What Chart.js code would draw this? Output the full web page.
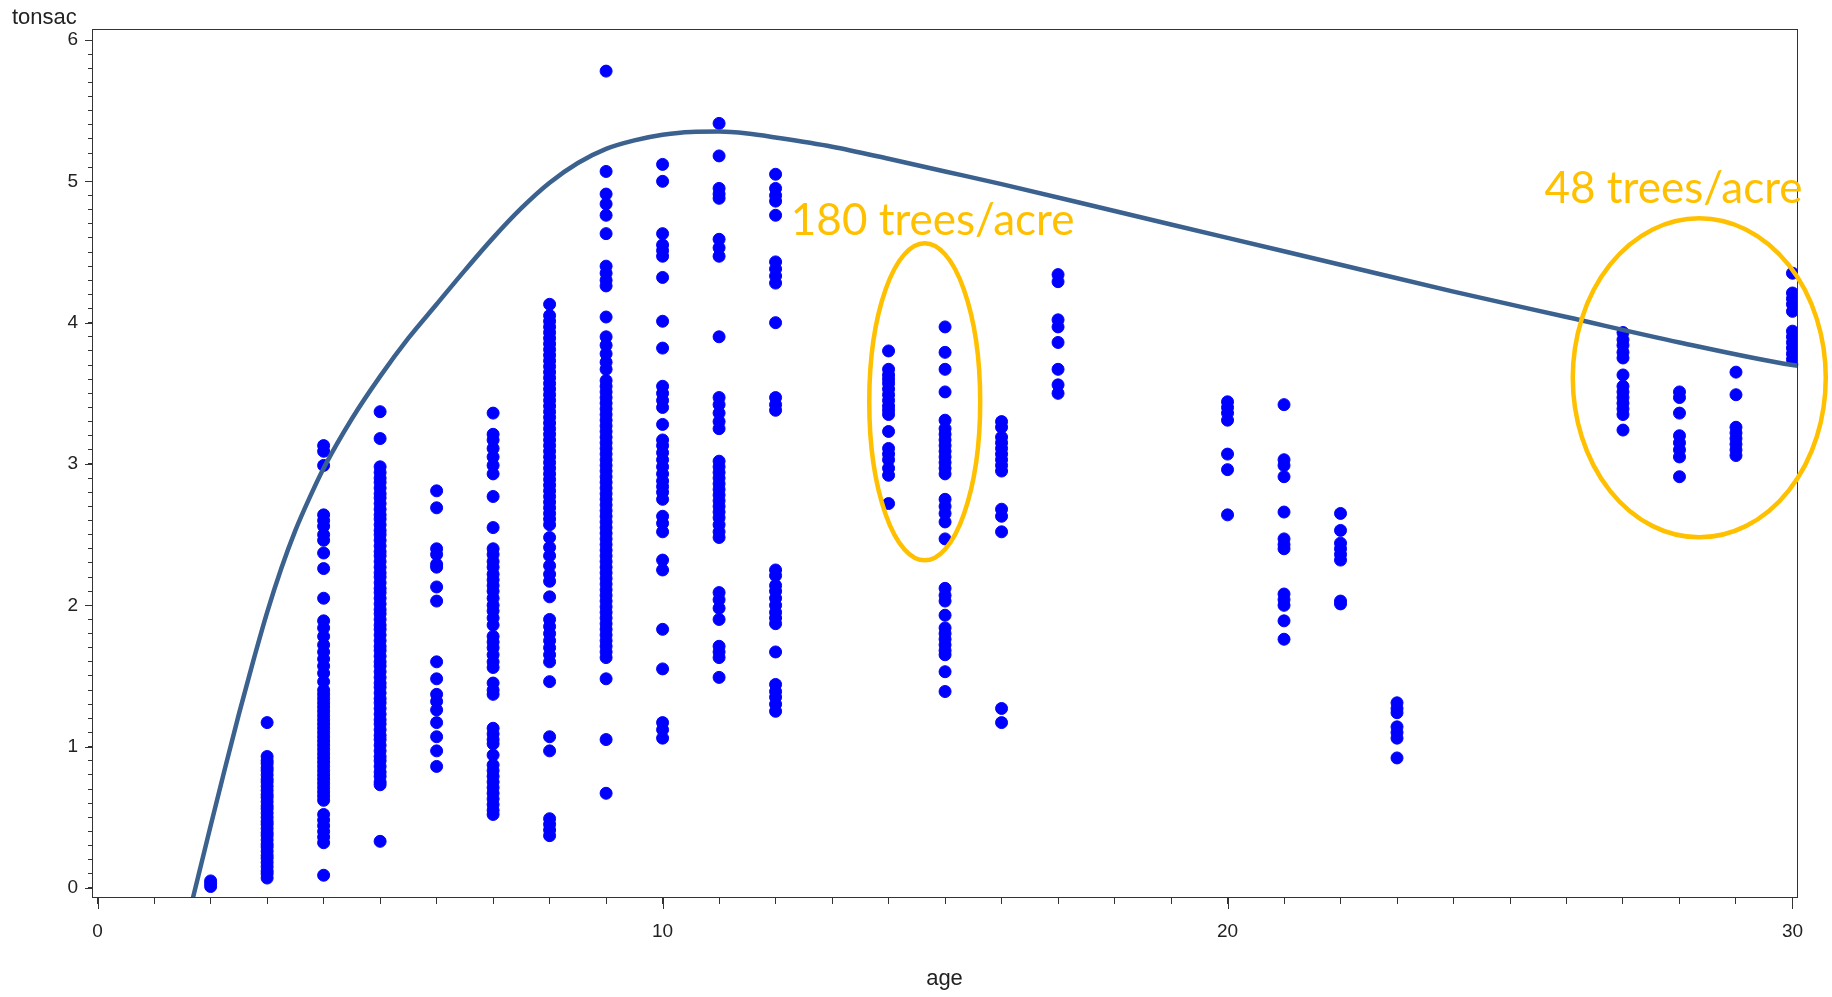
<!DOCTYPE html>
<html>
<head>
<meta charset="utf-8">
<script src="https://cdn.jsdelivr.net/npm/chart.js@4/dist/chart.umd.min.js"></script>
<style>
  html, body { margin: 0; padding: 0; background: #ffffff; }
  #wrap { width: 1832px; height: 997px; }
</style>
</head>
<body>
<div id="wrap"><canvas id="c" width="1832" height="997"></canvas></div>
<script>
// ---------------- data ----------------
const ages = [2, 3, 4, 5, 6, 7, 8, 9, 10, 11, 12, 14, 15, 16, 17, 20, 21, 22, 23, 27, 28, 29, 30];

const tonsacAge2 = [0.05, 0.03, 0.01];
const tonsacAge3 = [1.17, 0.93, 0.90, 0.88, 0.85, 0.83, 0.80, 0.77, 0.75, 0.72, 0.69, 0.66, 0.64, 0.61, 0.58, 0.56, 0.53, 0.50, 0.47, 0.45, 0.42, 0.39, 0.37, 0.34, 0.31, 0.29, 0.26, 0.23, 0.21, 0.18, 0.15, 0.12, 0.10, 0.07];
const tonsacAge4 = [3.13, 3.09, 2.99, 2.64, 2.60, 2.56, 2.50, 2.46, 2.37, 2.26, 2.05, 1.89, 1.84, 1.78, 1.72, 1.67, 1.62, 1.57, 1.52, 1.46, 1.40, 1.37, 1.34, 1.31, 1.28, 1.25, 1.22, 1.19, 1.16, 1.13, 1.10, 1.07, 1.04, 1.01, 0.98, 0.95, 0.92, 0.89, 0.86, 0.83, 0.80, 0.77, 0.74, 0.71, 0.68, 0.65, 0.62, 0.52, 0.48, 0.44, 0.40, 0.36, 0.32, 0.09];
const tonsacAge5 = [3.37, 3.18, 2.98, 2.94, 2.90, 2.87, 2.83, 2.79, 2.76, 2.72, 2.68, 2.64, 2.61, 2.57, 2.53, 2.50, 2.46, 2.42, 2.38, 2.35, 2.31, 2.27, 2.23, 2.20, 2.16, 2.12, 2.09, 2.05, 2.01, 1.97, 1.94, 1.90, 1.86, 1.83, 1.79, 1.75, 1.71, 1.68, 1.64, 1.60, 1.57, 1.53, 1.49, 1.45, 1.42, 1.38, 1.34, 1.31, 1.27, 1.23, 1.19, 1.16, 1.12, 1.08, 1.05, 1.01, 0.97, 0.93, 0.90, 0.86, 0.82, 0.79, 0.75, 0.73, 0.33];
const tonsacAge6 = [2.81, 2.69, 2.40, 2.36, 2.29, 2.27, 2.13, 2.03, 1.60, 1.48, 1.37, 1.32, 1.26, 1.17, 1.07, 0.97, 0.86];
const tonsacAge7 = [3.36, 3.21, 3.17, 3.11, 3.05, 2.99, 2.93, 2.77, 2.55, 2.40, 2.36, 2.31, 2.27, 2.22, 2.18, 2.14, 2.10, 2.05, 2.00, 1.96, 1.91, 1.86, 1.78, 1.74, 1.70, 1.65, 1.60, 1.56, 1.45, 1.40, 1.37, 1.13, 1.09, 1.05, 1.02, 0.94, 0.87, 0.83, 0.79, 0.75, 0.71, 0.67, 0.63, 0.59, 0.55, 0.52];
const tonsacAge8 = [4.13, 4.05, 4.01, 3.97, 3.93, 3.89, 3.85, 3.81, 3.77, 3.73, 3.69, 3.65, 3.61, 3.57, 3.53, 3.49, 3.45, 3.41, 3.37, 3.33, 3.29, 3.25, 3.21, 3.17, 3.13, 3.09, 3.05, 3.01, 2.97, 2.93, 2.89, 2.85, 2.81, 2.77, 2.73, 2.69, 2.65, 2.61, 2.57, 2.48, 2.41, 2.35, 2.28, 2.22, 2.17, 2.06, 1.90, 1.85, 1.80, 1.75, 1.70, 1.65, 1.60, 1.46, 1.07, 0.97, 0.49, 0.45, 0.41, 0.37];
const tonsacAge9 = [5.78, 5.07, 4.91, 4.84, 4.76, 4.63, 4.40, 4.35, 4.30, 4.26, 4.04, 3.90, 3.84, 3.78, 3.72, 3.67, 3.59, 3.55, 3.51, 3.47, 3.43, 3.39, 3.35, 3.31, 3.27, 3.23, 3.19, 3.15, 3.11, 3.07, 3.03, 2.99, 2.95, 2.91, 2.87, 2.83, 2.79, 2.75, 2.71, 2.67, 2.63, 2.59, 2.55, 2.51, 2.47, 2.43, 2.39, 2.35, 2.31, 2.27, 2.23, 2.19, 2.15, 2.11, 2.07, 2.03, 1.99, 1.95, 1.91, 1.87, 1.83, 1.79, 1.75, 1.71, 1.67, 1.63, 1.48, 1.05, 0.67];
const tonsacAge10 = [5.12, 5.00, 4.63, 4.55, 4.51, 4.47, 4.32, 4.01, 3.82, 3.55, 3.50, 3.45, 3.40, 3.28, 3.17, 3.13, 3.08, 3.03, 2.98, 2.93, 2.88, 2.84, 2.80, 2.75, 2.63, 2.58, 2.52, 2.32, 2.25, 1.83, 1.55, 1.17, 1.12, 1.06];
const tonsacAge11 = [5.41, 5.18, 4.95, 4.91, 4.88, 4.59, 4.53, 4.47, 3.90, 3.47, 3.42, 3.36, 3.30, 3.25, 3.02, 2.98, 2.94, 2.90, 2.86, 2.82, 2.78, 2.74, 2.70, 2.66, 2.62, 2.57, 2.52, 2.48, 2.09, 2.04, 1.98, 1.90, 1.71, 1.67, 1.63, 1.49];
const tonsacAge12 = [5.05, 4.95, 4.90, 4.86, 4.76, 4.43, 4.38, 4.33, 4.28, 4.00, 3.47, 3.42, 3.38, 2.25, 2.21, 2.14, 2.10, 2.05, 2.00, 1.95, 1.91, 1.87, 1.67, 1.44, 1.39, 1.35, 1.30, 1.25];
const tonsacAge14 = [3.80, 3.67, 3.63, 3.60, 3.57, 3.53, 3.49, 3.45, 3.41, 3.38, 3.35, 3.23, 3.11, 3.07, 3.03, 2.97, 2.92, 2.72];
const tonsacAge15 = [3.97, 3.79, 3.67, 3.51, 3.31, 3.25, 3.21, 3.17, 3.13, 3.09, 3.05, 3.01, 2.97, 2.93, 2.75, 2.70, 2.65, 2.59, 2.47, 2.12, 2.07, 2.03, 1.93, 1.84, 1.80, 1.76, 1.72, 1.68, 1.65, 1.53, 1.39];
const tonsacAge16 = [3.30, 3.26, 3.19, 3.15, 3.11, 3.07, 3.03, 2.99, 2.95, 2.68, 2.63, 2.52, 1.27, 1.17];
const tonsacAge17 = [4.34, 4.29, 4.02, 3.97, 3.86, 3.67, 3.56, 3.50];
const tonsacAge20 = [3.44, 3.40, 3.36, 3.31, 3.07, 2.96, 2.64];
const tonsacAge21 = [3.42, 3.03, 2.99, 2.91, 2.66, 2.47, 2.43, 2.40, 2.08, 2.04, 2.00, 1.89, 1.76];
const tonsacAge22 = [2.65, 2.53, 2.44, 2.40, 2.36, 2.32, 2.03, 2.01];
const tonsacAge23 = [1.31, 1.27, 1.24, 1.14, 1.10, 1.06, 0.92];
const tonsacAge27 = [3.93, 3.88, 3.84, 3.79, 3.75, 3.63, 3.55, 3.51, 3.47, 3.43, 3.39, 3.35, 3.24];
const tonsacAge28 = [3.51, 3.47, 3.36, 3.20, 3.15, 3.10, 3.05, 2.91];
const tonsacAge29 = [3.65, 3.49, 3.26, 3.22, 3.18, 3.14, 3.10, 3.06];
const tonsacAge30 = [4.35, 4.21, 4.17, 4.13, 4.08, 3.94, 3.90, 3.86, 3.82, 3.78, 3.74];

// fitted curve
const fitAge = [1.65, 2.0, 2.25, 2.5, 2.75, 3.0, 3.25, 3.5, 3.75, 4.0, 4.5, 5.0, 5.5, 6.0, 6.5, 7.0, 7.5, 8.0, 8.5, 9.0, 9.5, 10.0, 10.5, 11.0, 11.5, 12.0, 13, 14, 15, 16, 18, 20, 22, 24, 26, 28, 30, 30.1];
const fitTonsac = [-0.13, 0.44, 0.84, 1.23, 1.60, 1.95, 2.26, 2.53, 2.76, 2.97, 3.32, 3.62, 3.89, 4.13, 4.37, 4.60, 4.81, 4.99, 5.13, 5.23, 5.29, 5.33, 5.35, 5.352, 5.338, 5.31, 5.245, 5.16, 5.07, 4.98, 4.79, 4.60, 4.41, 4.22, 4.04, 3.86, 3.70, 3.695];

// axis labels
const xTickLabels = [0, 10, 20, 30];
const yTickLabels = [0, 1, 2, 3, 4, 5, 6];
const xTitle = 'age';
const yTitle = 'tonsac';

// annotations
const annotationTexts = ['180 trees/acre', '48 trees/acre'];

// ---------------- build ----------------
const tonsacByAge = [tonsacAge2, tonsacAge3, tonsacAge4, tonsacAge5, tonsacAge6, tonsacAge7, tonsacAge8, tonsacAge9, tonsacAge10, tonsacAge11, tonsacAge12, tonsacAge14, tonsacAge15, tonsacAge16, tonsacAge17, tonsacAge20, tonsacAge21, tonsacAge22, tonsacAge23, tonsacAge27, tonsacAge28, tonsacAge29, tonsacAge30];
const scatterPoints = [];
ages.forEach((a, i) => tonsacByAge[i].forEach(v => scatterPoints.push({ x: a, y: v })));
const fitPoints = fitAge.map((a, i) => ({ x: a, y: fitTonsac[i] }));

const ORANGE = '#FFC000';
const annotations = [
  { text: annotationTexts[0], textAge: 12.27, textVal: 4.62, cx: 14.64, cy: 3.44, rAge: 0.982, rVal: 1.122 },
  { text: annotationTexts[1], textAge: 25.61, textVal: 4.85, cx: 28.35, cy: 3.61, rAge: 2.239, rVal: 1.129 }
];

const isOn = (v, list) => list.some(t => Math.abs(t - v) < 1e-6);
const AXIS_COLOR = '#333333';
const LABEL_COLOR = '#222222';
const FONT = '"Liberation Sans", Arial, sans-serif';

const decorPlugin = {
  id: 'decor',
  afterDraw(chart) {
    const ctx = chart.ctx;
    const ca = chart.chartArea;
    const xs = chart.scales.x, ys = chart.scales.y;
    ctx.save();
    // frame
    ctx.strokeStyle = AXIS_COLOR;
    ctx.lineWidth = 1;
    ctx.strokeRect(Math.round(ca.left) + 0.5, Math.round(ca.top) + 0.5, Math.round(ca.right - ca.left), Math.round(ca.bottom - ca.top));
    // major ticks
    ctx.beginPath();
    yTickLabels.forEach(v => {
      const py = Math.round(ys.getPixelForValue(v)) + 0.5;
      ctx.moveTo(ca.left - 7, py); ctx.lineTo(ca.left, py);
    });
    xTickLabels.forEach(v => {
      const px = Math.round(xs.getPixelForValue(v)) + 0.5;
      ctx.moveTo(px, ca.bottom); ctx.lineTo(px, ca.bottom + 12);
    });
    ctx.stroke();
    // y title (horizontal, top-left)
    ctx.fillStyle = LABEL_COLOR;
    ctx.font = '22px ' + FONT;
    ctx.textAlign = 'left';
    ctx.textBaseline = 'alphabetic';
    ctx.fillText(yTitle, 12, 24);
    // annotations
    ctx.strokeStyle = ORANGE;
    ctx.fillStyle = ORANGE;
    ctx.lineWidth = 4.5;
    ctx.font = '44px Lato, "Open Sans", sans-serif';
    annotations.forEach(a => {
      const cx = xs.getPixelForValue(a.cx), cy = ys.getPixelForValue(a.cy);
      const rx = xs.getPixelForValue(a.cx + a.rAge) - cx;
      const ry = cy - ys.getPixelForValue(a.cy + a.rVal);
      ctx.beginPath();
      ctx.ellipse(cx, cy, rx, ry, 0, 0, Math.PI * 2);
      ctx.stroke();
      ctx.fillText(a.text, xs.getPixelForValue(a.textAge), ys.getPixelForValue(a.textVal));
    });
    ctx.restore();
  }
};

new Chart(document.getElementById('c'), {
  data: {
    datasets: [
      {
        type: 'line',
        data: fitPoints,
        borderColor: '#3b618f',
        borderWidth: 4.5,
        pointRadius: 0,
        fill: false,
        cubicInterpolationMode: 'monotone',
        clip: { left: 0, top: 0, right: 6, bottom: 0 }
      },
      {
        type: 'scatter',
        data: scatterPoints,
        pointRadius: 6,
        pointBorderWidth: 1,
        backgroundColor: '#0000ff',
        borderColor: '#0000ff',
        pointStyle: 'circle',
        clip: 0
      }
    ]
  },
  options: {
    responsive: false,
    animation: false,
    devicePixelRatio: 1,
    events: [],
    layout: { padding: { left: 0, top: 29, right: 35, bottom: 0 } },
    plugins: { legend: { display: false }, tooltip: { enabled: false }, title: { display: false } },
    scales: {
      x: {
        type: 'linear',
        position: 'bottom',
        min: -0.1,
        max: 30.08,
        ticks: {
          stepSize: 1,
          includeBounds: false,
          autoSkip: false,
          maxRotation: 0,
          padding: 16,
          color: LABEL_COLOR,
          font: { family: FONT, size: 19 },
          callback: v => (isOn(v, xTickLabels) ? String(Math.round(v)) : '')
        },
        grid: { display: true, drawOnChartArea: false, drawTicks: true, tickLength: 7, tickColor: AXIS_COLOR, tickWidth: 1 },
        border: { display: true, color: AXIS_COLOR, width: 1 },
        title: { display: true, text: xTitle, color: LABEL_COLOR, font: { family: FONT, size: 22 }, padding: { top: 0, bottom: 5 } },
        afterFit: s => { s.height = 100; }
      },
      y: {
        type: 'linear',
        position: 'left',
        min: -0.064,
        max: 6.078,
        ticks: {
          stepSize: 0.1,
          includeBounds: false,
          autoSkip: false,
          padding: 10,
          color: LABEL_COLOR,
          font: { family: FONT, size: 19 },
          callback: v => (isOn(v, yTickLabels) ? String(Math.round(v)) : '')
        },
        grid: { display: true, drawOnChartArea: false, drawTicks: true, tickLength: 4, tickColor: AXIS_COLOR, tickWidth: 1 },
        border: { display: true, color: AXIS_COLOR, width: 1 },
        afterFit: s => { s.width = 92; }
      }
    }
  },
  plugins: [decorPlugin]
});
</script>
</body>
</html>
